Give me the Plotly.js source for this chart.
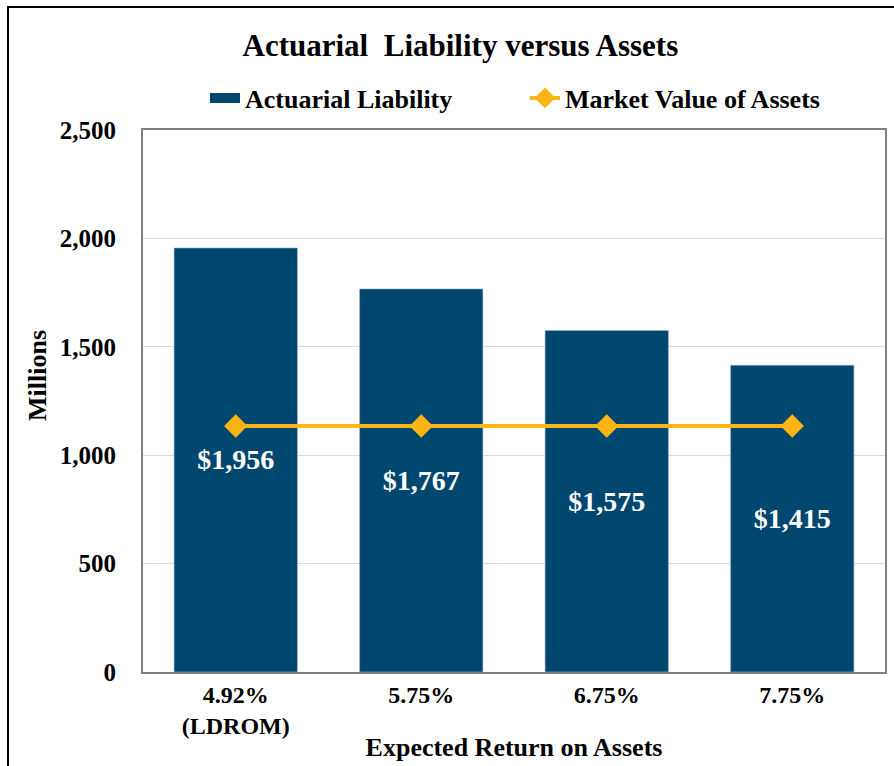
<!DOCTYPE html>
<html>
<head>
<meta charset="utf-8">
<script src="https://cdn.plot.ly/plotly-3.0.1.min.js"></script>
<style>
  html, body { margin: 0; padding: 0; background: #ffffff; }
  #chart { width: 894px; height: 766px; }
</style>
</head>
<body>
<div id="chart"></div>
<script>
// ---- data ----
const categories = ["4.92%<br>(LDROM)", "5.75%", "6.75%", "7.75%"];
const liability = [1956, 1767, 1575, 1415];
const marketValue = [1135, 1135, 1135, 1135];
const yTickVals = [0, 500, 1000, 1500, 2000, 2500];
const yTickText = ["0", "500", "1,000", "1,500", "2,000", "2,500"];

const FONT = "Liberation Serif, Times New Roman, serif";
const BAR_COLOR = "#00476F";
const LINE_COLOR = "#FDB515";

const traces = [
  {
    type: "bar",
    name: "Actuarial Liability",
    x: categories,
    y: liability,
    showlegend: false,
    legendgroup: "liab",
    marker: { color: BAR_COLOR, line: { color: "#9DB7CC", width: 0.6 } },
    texttemplate: "$%{y:,}",
    textposition: "inside",
    insidetextanchor: "middle",
    textangle: 0,
    textfont: { family: FONT, size: 28, color: "#ffffff", weight: "bold" },
    hoverinfo: "none"
  },
  {
    // legend swatch proxy for the bar series (wide rectangle as in the reference)
    type: "scatter",
    mode: "lines",
    name: "Actuarial Liability",
    legendgroup: "liab",
    x: [categories[0]],
    y: [null],
    line: { color: BAR_COLOR, width: 14 },
    hoverinfo: "none"
  },
  {
    type: "scatter",
    mode: "lines+markers",
    name: "Market Value of Assets",
    x: categories,
    y: marketValue,
    line: { color: LINE_COLOR, width: 4 },
    marker: { symbol: "diamond", size: 18, color: LINE_COLOR },
    hoverinfo: "none"
  }
];

const layout = {
  width: 894,
  height: 766,
  paper_bgcolor: "#ffffff",
  plot_bgcolor: "#ffffff",
  margin: { l: 143, r: 9, t: 130, b: 94 },
  font: { family: FONT, color: "#000000" },
  bargap: 0.335,
  showlegend: true,
  title: {
    text: "Actuarial  Liability versus Assets",
    font: { family: FONT, size: 31, weight: "bold", color: "#000000" },
    xref: "container",
    x: 0.515,
    xanchor: "center",
    yref: "container",
    y: 1 - 45 / 766,
    yanchor: "middle"
  },
  legend: {
    orientation: "h",
    xref: "paper",
    yref: "paper",
    x: (205 - 143) / 742,
    xanchor: "left",
    y: (672 - 98) / 542,
    yanchor: "middle",
    font: { family: FONT, size: 26, weight: "bold", color: "#000000" },
    bgcolor: "rgba(0,0,0,0)",
    traceorder: "normal",
    entrywidth: 275,
    entrywidthmode: "pixels"
  },
  xaxis: {
    type: "category",
    showgrid: false,
    showline: true,
    linecolor: "#808080",
    linewidth: 2,
    mirror: true,
    ticks: "",
    tickfont: { family: FONT, size: 24, weight: "bold", color: "#000000" },
    title: {
      text: "Expected Return on Assets",
      font: { family: FONT, size: 26, weight: "bold", color: "#000000" },
      standoff: 0
    },
    fixedrange: true
  },
  yaxis: {
    range: [0, 2500],
    tickvals: yTickVals,
    ticktext: yTickText,
    showgrid: true,
    gridcolor: "#D9D9D9",
    gridwidth: 1,
    zeroline: false,
    showline: true,
    linecolor: "#808080",
    linewidth: 2,
    mirror: true,
    ticks: "",
    ticklabelstandoff: 20,
    tickfont: { family: FONT, size: 25, weight: "bold", color: "#000000" },
    fixedrange: true
  },
  annotations: [
    {
      text: "Millions",
      xref: "paper",
      yref: "paper",
      x: (37 - 143) / 742,
      y: (672 - 376) / 542,
      xanchor: "center",
      yanchor: "middle",
      textangle: -90,
      showarrow: false,
      font: { family: FONT, size: 26, weight: "bold", color: "#000000" }
    }
  ],
  shapes: [
    {
      type: "rect",
      xref: "paper",
      yref: "paper",
      x0: (8 - 143) / 742,
      x1: 2,
      y0: -1,
      y1: (672 - 7) / 542,
      line: { color: "#000000", width: 2 },
      fillcolor: "rgba(0,0,0,0)",
      layer: "above"
    }
  ]
};

Plotly.newPlot("chart", traces, layout, { displayModeBar: false, staticPlot: true });
</script>
</body>
</html>
